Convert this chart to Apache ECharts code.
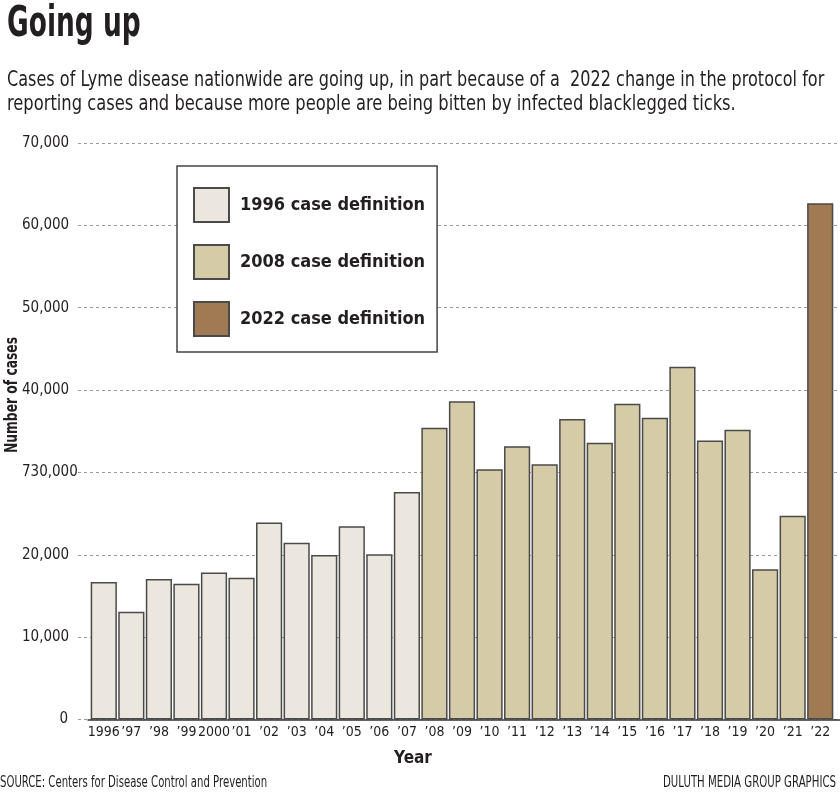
<!DOCTYPE html>
<html>
<head>
<meta charset="utf-8">
<script src="https://cdn.jsdelivr.net/npm/echarts@6/dist/echarts.min.js"></script>
<style>
html,body{margin:0;padding:0;background:#fff;}
#chart{width:840px;height:794px;}
</style>
</head>
<body>
<div id="chart"></div>
<script>
var years = ['1996','’97','’98','’99','2000','’01','’02','’03','’04','’05','’06','’07','’08','’09','’10','’11','’12','’13','’14','’15','’16','’17','’18','’19','’20','’21','’22'];
var cases1996Def = [16690,13080,17050,16480,17860,17210,23930,21460,19960,23450,20080,27610];
var cases2008Def = [35410,38650,30400,33190,31000,36500,33590,38330,36630,42820,33880,35170,18230,24730];
var cases2022Def = [62680];
var yTickLabels = ['0','10,000','20,000','730,000','40,000','50,000','60,000','70,000'];
var seriesNames = ['1996 case definition','2008 case definition','2022 case definition'];

var FONT = "'DejaVu Sans Condensed','Roboto',sans-serif";
var INK = '#231f20';

function pad(arr, before, total){
  var out = [];
  for (var i=0;i<total;i++){
    var j = i-before;
    out.push(j>=0 && j<arr.length ? arr[j] : '-');
  }
  return out;
}
var n = years.length;
var d1 = pad(cases1996Def, 0, n);
var d2 = pad(cases2008Def, cases1996Def.length, n);
var d3 = pad(cases2022Def, cases1996Def.length + cases2008Def.length, n);

var chart = echarts.init(document.getElementById('chart'));
var gridTop = 143, gridBottom = 74.5;
var barBorder = {borderColor:'#4a4a4a', borderWidth:1.5};

function txt(t, x, y, size, weight, sx, align){
  return {type:'text', x:x, y:y, scaleX:sx, silent:true,
    style:{text:t, fontFamily:FONT, fontWeight:weight, fontSize:size, fill:INK, align:align||'left', verticalAlign:'middle'}};
}

chart.setOption({
  backgroundColor:'#fff',
  animation:false,
  graphic:[
    txt('Going up', 7, 25, 42, 'bold', 0.70),
    txt('Cases of Lyme disease nationwide are going up, in part because of a  2022 change in the protocol for', 7, 80, 22, 'normal', 0.812),
    txt('reporting cases and because more people are being bitten by infected blacklegged ticks.', 7, 104, 22, 'normal', 0.825),
    txt('SOURCE: Centers for Disease Control and Prevention', 0, 783, 15, 'normal', 0.75),
    txt('DULUTH MEDIA GROUP GRAPHICS', 836, 783, 15, 'normal', 0.755, 'right'),
    {type:'text', x:12, y:395, rotation:Math.PI/2, scaleX:0.76, silent:true,
     style:{text:'Number of cases', fontFamily:FONT, fontWeight:'bold', fontSize:18, fill:INK, align:'center', verticalAlign:'middle'}}
  ],
  legend:{
    data:seriesNames,
    orient:'vertical',
    left:177, top:166,
    padding:[21,12,15,16],
    icon:'rect',
    itemWidth:35, itemHeight:34,
    itemGap:21,
    borderColor:'#444', borderWidth:1.5,
    backgroundColor:'#fff',
    selectedMode:false,
    textStyle:{fontFamily:FONT, fontWeight:'bold', fontSize:18, color:INK, padding:[0,0,0,6]}
  },
  grid:[
    {left:78, right:0, top:gridTop, bottom:gridBottom},
    {left:90, right:6, top:gridTop, bottom:gridBottom},
    {left:88, right:0, top:gridTop, bottom:gridBottom}
  ],
  xAxis:[
    {gridIndex:0, type:'value', show:false},
    {gridIndex:1, type:'category', data:years,
     axisLine:{show:false}, axisTick:{show:false},
     axisLabel:{interval:0, margin:6, fontFamily:FONT, fontSize:14, color:INK},
     name:'Year', nameLocation:'middle', nameGap:31,
     nameTextStyle:{fontFamily:FONT, fontWeight:'bold', fontSize:17, color:INK, padding:[0,98,0,0]}},
    {gridIndex:2, type:'value', axisLine:{show:true, lineStyle:{color:'#333', width:1.5}}, axisTick:{show:false}, axisLabel:{show:false}, splitLine:{show:false}}
  ],
  yAxis:[
    {gridIndex:0, type:'value', min:0, max:70000, interval:10000,
     axisLine:{show:false}, axisTick:{show:false},
     axisLabel:{margin:56, align:'left', fontFamily:FONT, fontSize:15, color:INK,
       formatter:function(v){ var s = yTickLabels[Math.round(v/10000)]; return v === 0 ? '{r|' + s + '}' : s; },
       rich:{r:{width:46, align:'right', fontFamily:FONT, fontSize:15, color:INK}}},
     splitLine:{show:true, lineStyle:{color:'#9a9a9a', type:[3,3], width:1}}},
    {gridIndex:1, type:'value', min:0, max:70000, show:false},
    {gridIndex:2, type:'value', min:0, max:70000, show:false}
  ],
  series:[
    {name:seriesNames[0], type:'bar', xAxisIndex:1, yAxisIndex:1, stack:'all', data:d1, barCategoryGap:'5%',
     itemStyle:Object.assign({color:'#ebe7de'}, barBorder), z:3},
    {name:seriesNames[1], type:'bar', xAxisIndex:1, yAxisIndex:1, stack:'all', data:d2, barCategoryGap:'5%',
     itemStyle:Object.assign({color:'#d6cba7'}, barBorder), z:3},
    {name:seriesNames[2], type:'bar', xAxisIndex:1, yAxisIndex:1, stack:'all', data:d3, barCategoryGap:'5%',
     itemStyle:Object.assign({color:'#a07a52'}, barBorder), z:3}
  ]
});
</script>
</body>
</html>
